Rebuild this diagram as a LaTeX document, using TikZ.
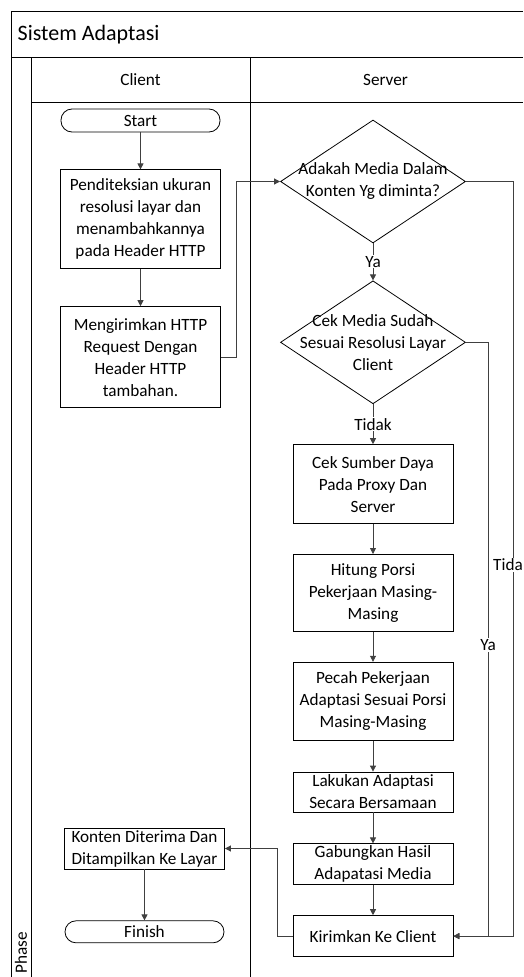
\documentclass[tikz,border=0pt]{standalone}
\usepackage{fontspec}
\setmainfont{Carlito}
\usepackage{tikz}
\usetikzlibrary{arrows.meta,shapes,positioning}

\begin{document}
\begin{tikzpicture}[
        x=1pt, y=-1pt,
        node distance=37pt,
        every node/.style={font=\fontsize{17.2}{22}\selectfont, align=center},
        every path/.style={line width=0.8pt},
        proses/.style={draw, minimum width=160pt, minimum height=#1, inner sep=1pt},
        proses/.default=41pt,
        terminal/.style={draw, rounded corners=11pt, minimum width=159pt, minimum height=23pt, inner sep=0pt},
        keputusan/.style={draw, diamond, minimum width=185pt, minimum height=123pt, inner sep=0pt},
        garis/.style={draw=black!75, -{Triangle[length=6pt,width=6pt]}},
        ket/.style={fill=white, inner sep=1pt}
    ]

    \useasboundingbox (0,0) rectangle (523,977);

    % Swimlane
    \draw (11,977) -- (11,11) -- (523,11);
    \draw (11,57) -- (523,57);
    \draw (31,102) -- (523,102);
    \draw (31,57) -- (31,977);
    \draw (250,57) -- (250,977);
    \node (judul)[anchor=west, font=\fontsize{22}{26}\selectfont] at (14,35) {Sistem Adaptasi};
    \node (client) at (140.5,80) {Client};
    \node (server) at (385.5,80) {Server};
    \node (phase)[rotate=90, anchor=west, inner sep=1pt] at (21,975) {Phase};

    % Nodes client
    \node (start)[terminal] at (140.5,120.5) {Start};
    \node (deteksi)[below=of start, proses=99pt] {Penditeksian ukuran \\ resolusi layar dan \\ menambahkannya \\ pada Header HTTP};
    \node (kirim)[below=of deteksi, proses=101pt] {Mengirimkan HTTP \\ Request Dengan \\ Header HTTP \\ tambahan.};
    \node (konten)[proses] at (144.5,848.5) {Konten Diterima Dan \\ Ditampilkan Ke Layar};
    \node (finish)[below=51pt of konten, terminal, minimum height=22pt] {Finish};

    % Nodes server
    \node (adakah)[keputusan, label=center:{Adakah Media Dalam \\ Konten Yg diminta?}] at (373,181.5) {};
    \node (sesuai)[below=of adakah, keputusan, label=center:{Cek Media Sudah \\ Sesuai Resolusi Layar \\ Client}] {};
    \node (sumber)[below=40pt of sesuai, proses=79pt] {Cek Sumber Daya \\ Pada Proxy Dan \\ Server};
    \node (hitung)[below=30pt of sumber, proses=77pt] {Hitung Porsi \\ Pekerjaan Masing- \\ Masing};
    \node (pecah)[below=30pt of hitung, proses=78pt] {Pecah Pekerjaan \\ Adaptasi Sesuai Porsi \\ Masing-Masing};
    \node (lakukan)[below=31pt of pecah, proses=40pt] {Lakukan Adaptasi \\ Secara Bersamaan};
    \node (gabung)[below=31pt of lakukan, proses] {Gabungkan Hasil \\ Adapatasi Media};
    \node (kirimkan)[below=30pt of gabung, proses] {Kirimkan Ke Client};

    % Edges
    \draw[garis] (start) -- (deteksi);
    \draw[garis] (deteksi) -- (kirim);
    \draw[garis] (kirim.east) -- ++(15,0) |- (adakah.west);
    \draw[garis] (adakah) -- node[ket]{Ya} (sesuai);
    \draw[garis] (sesuai) -- node[ket]{Tidak} (sumber);
    \draw[garis] (sumber) -- (hitung);
    \draw[garis] (hitung) -- (pecah);
    \draw[garis] (pecah) -- (lakukan);
    \draw[garis] (lakukan) -- (gabung);
    \draw[garis] (gabung) -- (kirimkan);
    \draw[garis] (adakah.east) -- ++(47,0) |- (kirimkan.east);
    \draw[garis] (sesuai.east) -- ++(22,0) |- (kirimkan.east);
    \draw[garis] (kirimkan.west) -- ++(-15,0) |- (konten.east);
    \draw[garis] (konten) -- (finish);

    % Labels
    \node (tida)[ket] at (508,565) {Tida};
    \node (ya)[ket] at (488,645) {Ya};

\end{tikzpicture}
\end{document}
